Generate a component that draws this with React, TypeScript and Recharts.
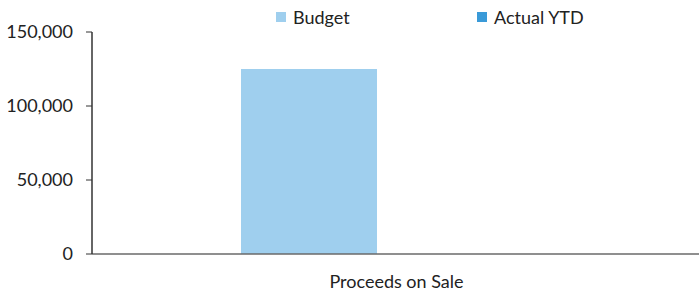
import React from "react";
import { BarChart, Bar, XAxis, YAxis } from "recharts";

const categories = ["Proceeds on Sale"];
const budgetValues = [125000];
const actualValues = [0];
const yTicks = [0, 50000, 100000, 150000];
const seriesNames = ["Budget", "Actual YTD"];
const seriesColors = ["#9fcfee", "#3a9ad8"];

const data = categories.map((name, i) => ({
  name,
  budget: budgetValues[i],
  actual: actualValues[i],
}));

const FONT = "Lato, 'Open Sans', sans-serif";

export default function App() {
  return (
    <div style={{ position: "absolute", left: 0, top: 0, width: 699, height: 293, background: "#fff" }}>
      <div
        style={{
          position: "absolute",
          top: 6,
          left: 276,
          display: "flex",
          fontFamily: FONT,
          fontSize: 18,
          color: "#222",
          lineHeight: "22px",
        }}
      >
        {seriesNames.map((n, i) => (
          <div key={n} style={{ display: "flex", alignItems: "center", width: i === 0 ? 201 : "auto" }}>
            <span
              style={{
                display: "inline-block",
                width: 10,
                height: 10,
                background: seriesColors[i],
                marginRight: 7,
              }}
            />
            <span>{n}</span>
          </div>
        ))}
      </div>
      <BarChart
        width={699}
        height={293}
        data={data}
        margin={{ top: 32, right: 0, left: 0, bottom: 0 }}
        barGap={0}
        barSize={136}
      >
        <XAxis
          dataKey="name"
          padding={{ left: 0, right: 38 }}
          axisLine={{ stroke: "#6a6a6a", strokeWidth: 1.5 }}
          tickLine={false}
          tickSize={0}
          tickMargin={21}
          height={39}
          tick={{ fill: "#222", fontSize: 18, fontFamily: FONT, dx: 20 }}
        />
        <YAxis
          width={92}
          domain={[0, 150000]}
          ticks={yTicks}
          interval={0}
          tickFormatter={(v: number) => v.toLocaleString("en-US")}
          axisLine={{ stroke: "#333", strokeWidth: 1.5 }}
          tickLine={{ stroke: "#333" }}
          tickSize={6}
          tickMargin={13}
          tick={{ fill: "#222", fontSize: 18, fontFamily: FONT }}
        />
        <Bar dataKey="budget" name={seriesNames[0]} fill={seriesColors[0]} isAnimationActive={false} />
        <Bar dataKey="actual" name={seriesNames[1]} fill={seriesColors[1]} isAnimationActive={false} />
      </BarChart>
    </div>
  );
}
